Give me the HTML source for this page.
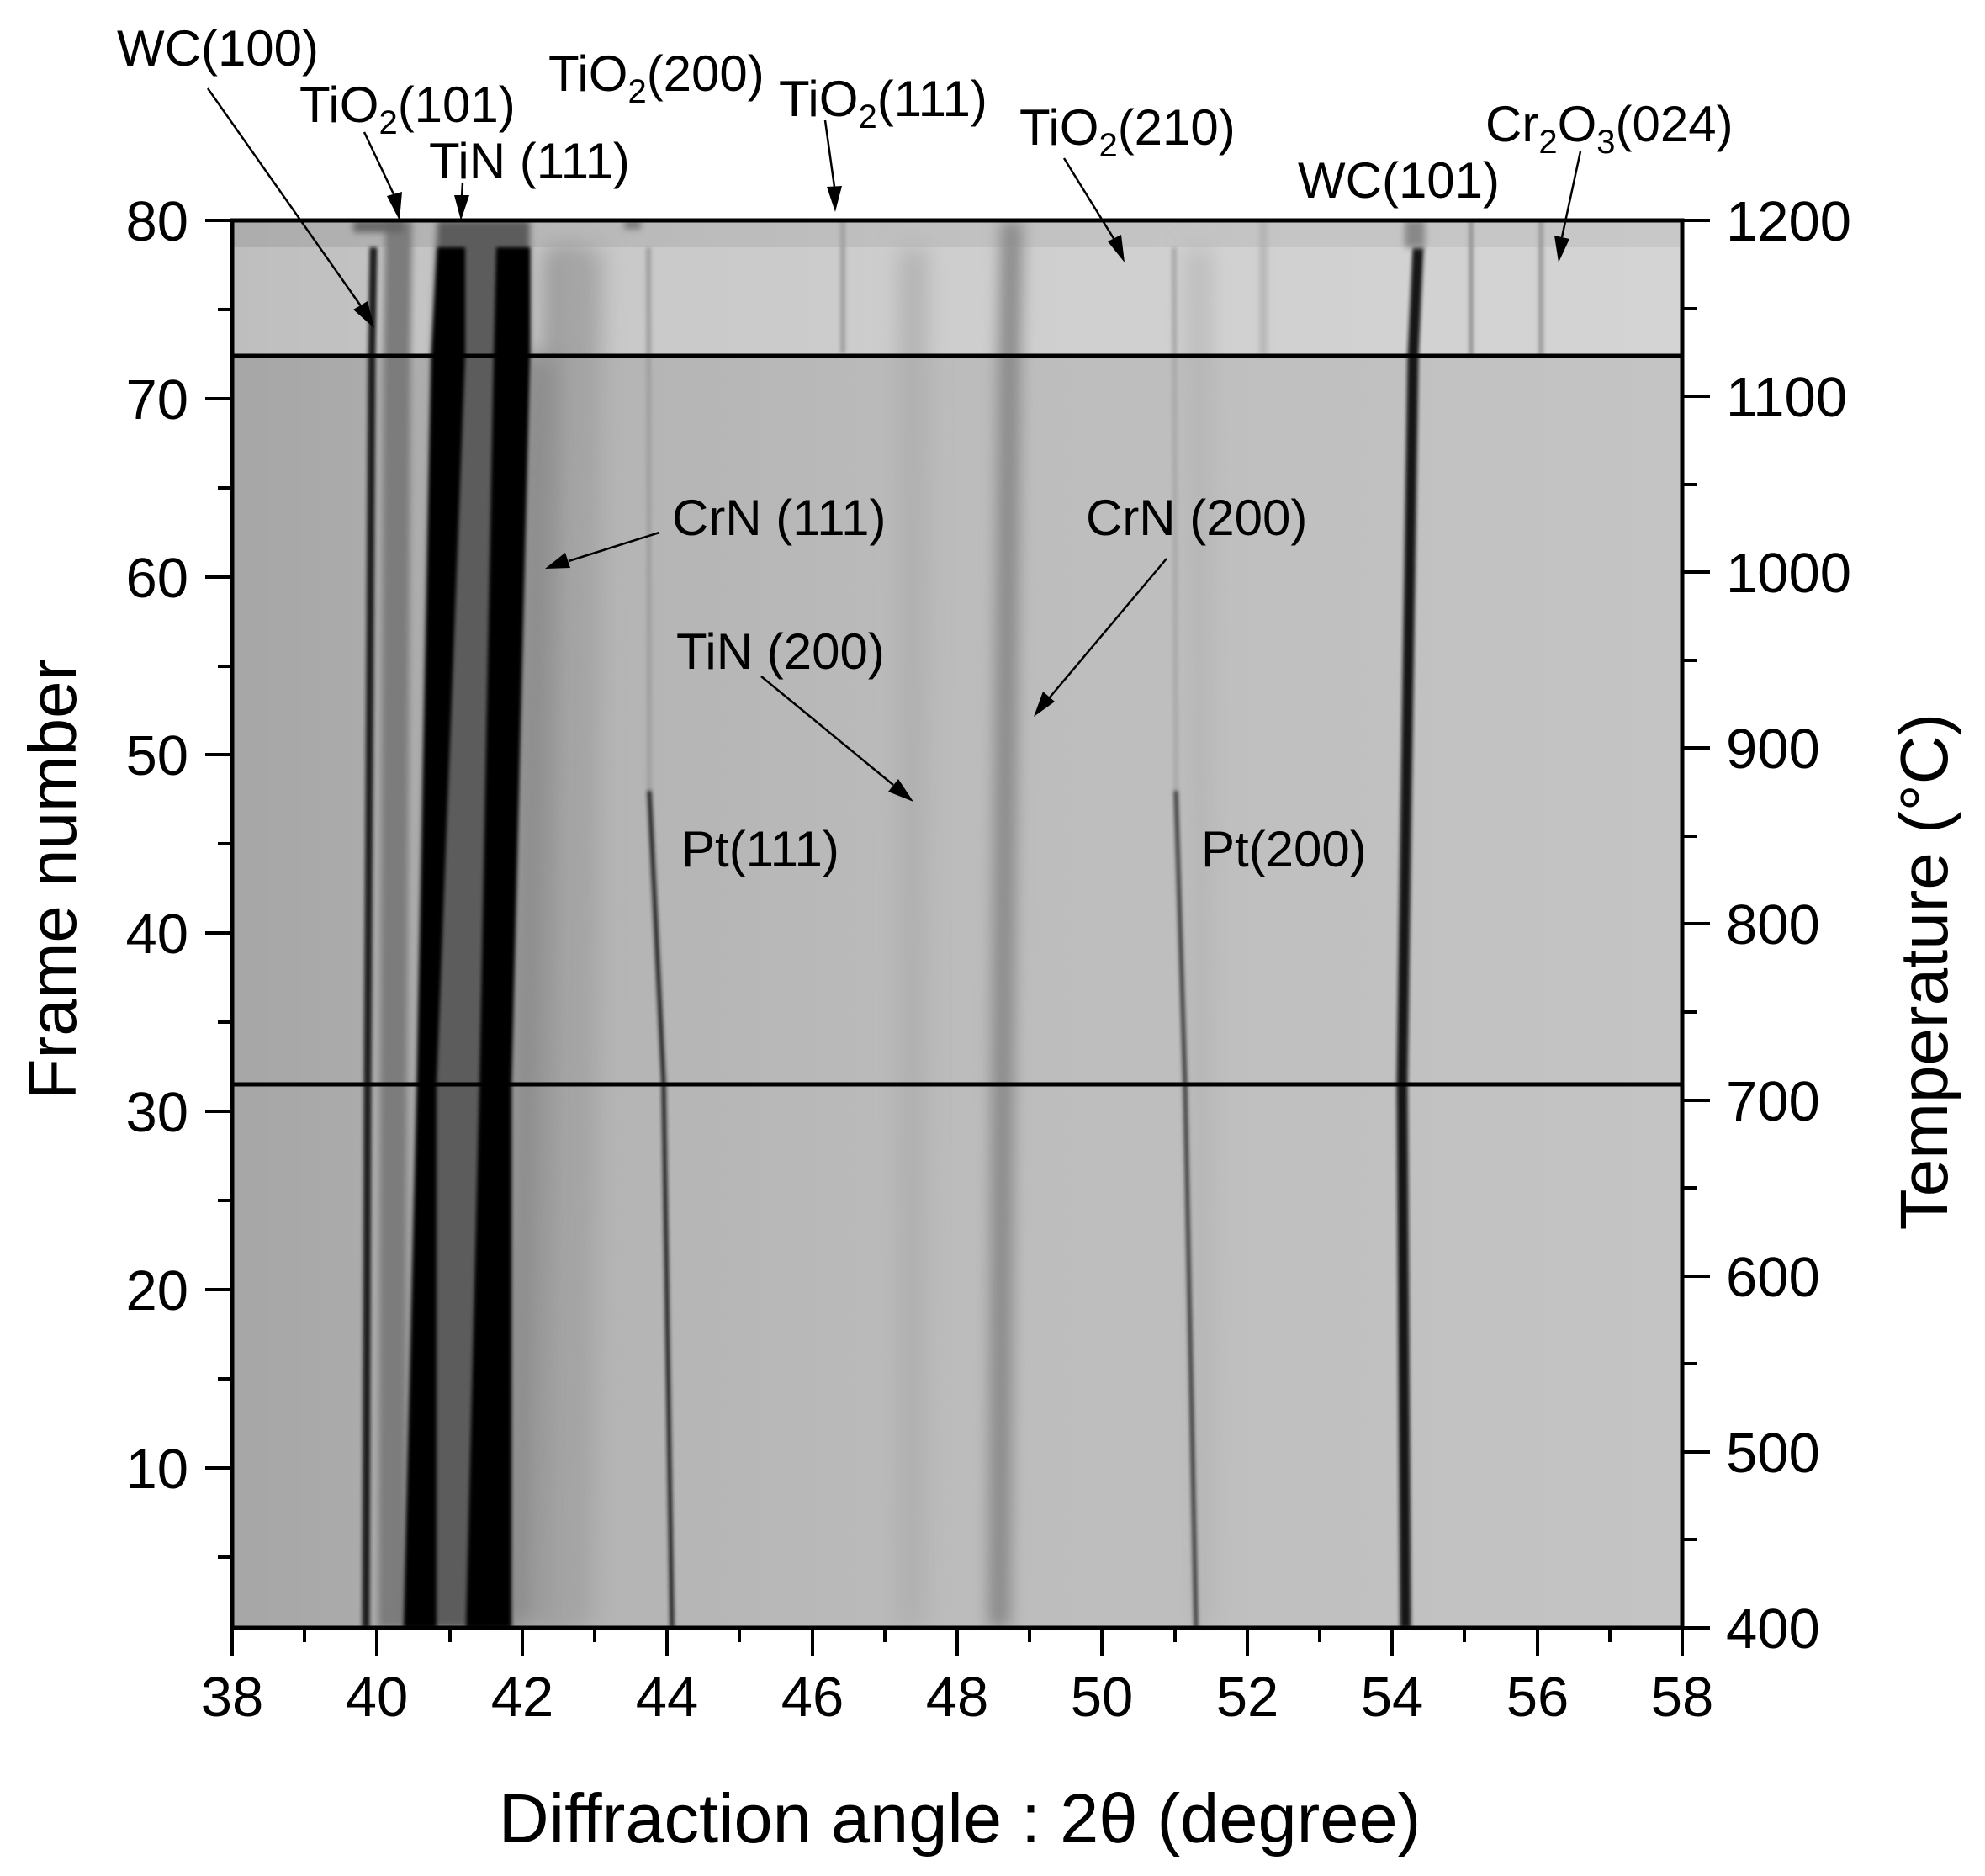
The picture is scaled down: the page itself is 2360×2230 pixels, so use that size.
<!DOCTYPE html>
<html><head><meta charset="utf-8"><style>
html,body{margin:0;padding:0;background:#fff;}
svg{display:block;}
text{font-family:"Liberation Sans",Arial,sans-serif;fill:#000;}
</style></head><body>
<svg width="2360" height="2230" viewBox="0 0 2360 2230" xmlns="http://www.w3.org/2000/svg">
<defs>
<linearGradient id="bg" x1="276" y1="0" x2="2000" y2="0" gradientUnits="userSpaceOnUse">
<stop offset="0" stop-color="#a6a6a6"/><stop offset="0.25" stop-color="#b4b4b4"/><stop offset="0.55" stop-color="#bdbdbd"/><stop offset="1" stop-color="#c4c4c4"/>
</linearGradient>
<clipPath id="pc"><rect x="276" y="262" width="1724" height="1673"/></clipPath>
<filter id="b2" filterUnits="userSpaceOnUse" x="0" y="0" width="2360" height="2230"><feGaussianBlur stdDeviation="2"/></filter>
<filter id="b4" filterUnits="userSpaceOnUse" x="0" y="0" width="2360" height="2230"><feGaussianBlur stdDeviation="4"/></filter>
<filter id="b8" filterUnits="userSpaceOnUse" x="0" y="0" width="2360" height="2230"><feGaussianBlur stdDeviation="9"/></filter>
<filter id="b14" filterUnits="userSpaceOnUse" x="0" y="0" width="2360" height="2230"><feGaussianBlur stdDeviation="14"/></filter>
</defs>
<g clip-path="url(#pc)">
<rect x="276" y="262" width="1724" height="1673" fill="url(#bg)"/>
<rect x="276" y="294" width="1724" height="129" fill="#fff" opacity="0.28"/>
<rect x="276" y="262" width="1724" height="32" fill="#fff" opacity="0.08"/>
<!-- faint bands -->
<polyline points="658,1935 662,1289 668,294" fill="none" stroke="#9a9a9a" stroke-width="40" filter="url(#b14)"/>
<polyline points="680,1935 690,294" fill="none" stroke="#a4a4a4" stroke-width="50" filter="url(#b14)"/>
<polyline points="1083,1935 1086,294" fill="none" stroke="#adadad" stroke-width="28" filter="url(#b14)"/>
<polyline points="1430,1935 1425,294" fill="none" stroke="#b2b2b2" stroke-width="20" filter="url(#b14)"/>
<polyline points="1502,423 1502,262" fill="none" stroke="#a8a8a8" stroke-width="6" filter="url(#b4)"/>
<polyline points="1749,423 1749,262" fill="none" stroke="#999" stroke-width="6" filter="url(#b2)"/>
<polyline points="1832,423 1832,262" fill="none" stroke="#9c9c9c" stroke-width="6" filter="url(#b2)"/>
<polyline points="1002,420 1002,262" fill="none" stroke="#a0a0a0" stroke-width="6" filter="url(#b2)"/>
<!-- CrN(200) -->
<polyline points="1188,1935 1192,1289 1200,423 1203,262" fill="none" stroke="#8a8a8a" stroke-width="26" filter="url(#b8)"/>
<!-- left cluster -->
<polyline points="466,1935 468,1289 472,423 474,262" fill="none" stroke="#7c7c7c" stroke-width="32" filter="url(#b4)"/>
<polygon points="480,1935 496,1289 513,423 520,262 630,262 630,423 608,1289 608,1935" fill="#5c5c5c" filter="url(#b4)"/>
<polyline points="615,1935 625,1289 640,423" fill="none" stroke="#8a8a8a" stroke-width="40" filter="url(#b14)"/>
<polygon points="480,1935 496,1289 513,423 520,294 553,294 553,423 519,1289 519,1935" fill="#000" filter="url(#b2)"/>
<polygon points="554,1935 570,1289 587,423 590,294 630,294 630,423 608,1289 608,1935" fill="#000" filter="url(#b2)"/>
<polyline points="435,1935 437,1289 442,423 444,294" fill="none" stroke="#1c1c1c" stroke-width="9" filter="url(#b2)"/>
<!-- Pt(111) -->
<polyline points="772,940 771,294" fill="none" stroke="#a0a0a0" stroke-width="6" filter="url(#b2)"/>
<polyline points="799,1935 789,1289 772,940" fill="none" stroke="#1a1a1a" stroke-width="5" filter="url(#b2)"/>
<!-- Pt(200) -->
<polyline points="1398,940 1396,294" fill="none" stroke="#aaa" stroke-width="6" filter="url(#b2)"/>
<polyline points="1422,1935 1409,1289 1398,940" fill="none" stroke="#3a3a3a" stroke-width="5" filter="url(#b2)"/>
<!-- WC(101) -->
<polyline points="1671,1935 1667,1289 1672,940 1680,423 1686,294" fill="none" stroke="#141414" stroke-width="13" filter="url(#b2)"/>
<rect x="1670" y="262" width="24" height="32" fill="#888" filter="url(#b4)"/>
<rect x="420" y="262" width="60" height="14" fill="#666" filter="url(#b4)"/>
<rect x="742" y="262" width="20" height="10" fill="#777" filter="url(#b4)"/>
</g>
<line x1="276" y1="423" x2="2000" y2="423" stroke="#000" stroke-width="5"/>
<line x1="276" y1="1289" x2="2000" y2="1289" stroke="#000" stroke-width="5"/>
<rect x="276" y="262" width="1724" height="1673" fill="none" stroke="#000" stroke-width="5"/>
<g stroke="#000" stroke-width="4">
<line x1="244" y1="262" x2="276" y2="262"/><line x1="244" y1="474" x2="276" y2="474"/><line x1="244" y1="686" x2="276" y2="686"/><line x1="244" y1="897" x2="276" y2="897"/><line x1="244" y1="1109" x2="276" y2="1109"/><line x1="244" y1="1321" x2="276" y2="1321"/><line x1="244" y1="1533" x2="276" y2="1533"/><line x1="244" y1="1745" x2="276" y2="1745"/>
<line x1="259" y1="368" x2="276" y2="368"/><line x1="259" y1="580" x2="276" y2="580"/><line x1="259" y1="792" x2="276" y2="792"/><line x1="259" y1="1003" x2="276" y2="1003"/><line x1="259" y1="1215" x2="276" y2="1215"/><line x1="259" y1="1427" x2="276" y2="1427"/><line x1="259" y1="1639" x2="276" y2="1639"/><line x1="259" y1="1851" x2="276" y2="1851"/>
<line x1="2000" y1="262" x2="2033" y2="262"/><line x1="2000" y1="471" x2="2033" y2="471"/><line x1="2000" y1="680" x2="2033" y2="680"/><line x1="2000" y1="889" x2="2033" y2="889"/><line x1="2000" y1="1098" x2="2033" y2="1098"/><line x1="2000" y1="1308" x2="2033" y2="1308"/><line x1="2000" y1="1517" x2="2033" y2="1517"/><line x1="2000" y1="1726" x2="2033" y2="1726"/><line x1="2000" y1="1935" x2="2033" y2="1935"/>
<line x1="2000" y1="367" x2="2017" y2="367"/><line x1="2000" y1="576" x2="2017" y2="576"/><line x1="2000" y1="785" x2="2017" y2="785"/><line x1="2000" y1="994" x2="2017" y2="994"/><line x1="2000" y1="1203" x2="2017" y2="1203"/><line x1="2000" y1="1412" x2="2017" y2="1412"/><line x1="2000" y1="1621" x2="2017" y2="1621"/><line x1="2000" y1="1830" x2="2017" y2="1830"/>
<line x1="276" y1="1935" x2="276" y2="1968"/><line x1="448" y1="1935" x2="448" y2="1968"/><line x1="621" y1="1935" x2="621" y2="1968"/><line x1="793" y1="1935" x2="793" y2="1968"/><line x1="966" y1="1935" x2="966" y2="1968"/><line x1="1138" y1="1935" x2="1138" y2="1968"/><line x1="1310" y1="1935" x2="1310" y2="1968"/><line x1="1483" y1="1935" x2="1483" y2="1968"/><line x1="1655" y1="1935" x2="1655" y2="1968"/><line x1="1828" y1="1935" x2="1828" y2="1968"/><line x1="2000" y1="1935" x2="2000" y2="1968"/>
<line x1="362" y1="1935" x2="362" y2="1952"/><line x1="535" y1="1935" x2="535" y2="1952"/><line x1="707" y1="1935" x2="707" y2="1952"/><line x1="879" y1="1935" x2="879" y2="1952"/><line x1="1052" y1="1935" x2="1052" y2="1952"/><line x1="1224" y1="1935" x2="1224" y2="1952"/><line x1="1397" y1="1935" x2="1397" y2="1952"/><line x1="1569" y1="1935" x2="1569" y2="1952"/><line x1="1741" y1="1935" x2="1741" y2="1952"/><line x1="1914" y1="1935" x2="1914" y2="1952"/>
</g>
<g font-size="67" text-anchor="end">
<text x="224" y="286">80</text><text x="224" y="498">70</text><text x="224" y="710">60</text><text x="224" y="921">50</text><text x="224" y="1133">40</text><text x="224" y="1345">30</text><text x="224" y="1557">20</text><text x="224" y="1769">10</text>
</g>
<g font-size="67" text-anchor="start">
<text x="2052" y="286">1200</text><text x="2052" y="495">1100</text><text x="2052" y="704">1000</text><text x="2052" y="913">900</text><text x="2052" y="1122">800</text><text x="2052" y="1332">700</text><text x="2052" y="1541">600</text><text x="2052" y="1750">500</text><text x="2052" y="1959">400</text>
</g>
<g font-size="67" text-anchor="middle">
<text x="276" y="2040">38</text><text x="448" y="2040">40</text><text x="621" y="2040">42</text><text x="793" y="2040">44</text><text x="966" y="2040">46</text><text x="1138" y="2040">48</text><text x="1310" y="2040">50</text><text x="1483" y="2040">52</text><text x="1655" y="2040">54</text><text x="1828" y="2040">56</text><text x="2000" y="2040">58</text>
</g>
<text x="1141" y="2190" font-size="83" text-anchor="middle">Diffraction angle : 2θ (degree)</text>
<text transform="translate(90,1045) rotate(-90)" font-size="80" text-anchor="middle">Frame number</text>
<text transform="translate(2315,1155) rotate(-90)" font-size="80" text-anchor="middle">Temperature (°C)</text>
<g font-size="60">
<text x="139" y="78">WC(100)</text>
<text x="356" y="145">TiO<tspan font-size="40" dy="14">2</tspan><tspan dy="-14">(101)</tspan></text>
<text x="510" y="212">TiN (111)</text>
<text x="652" y="108">TiO<tspan font-size="40" dy="14">2</tspan><tspan dy="-14">(200)</tspan></text>
<text x="926" y="138">TiO<tspan font-size="40" dy="14">2</tspan><tspan dy="-14">(111)</tspan></text>
<text x="1212" y="172">TiO<tspan font-size="40" dy="14">2</tspan><tspan dy="-14">(210)</tspan></text>
<text x="1543" y="235">WC(101)</text>
<text x="1766" y="168">Cr<tspan font-size="40" dy="14">2</tspan><tspan dy="-14">O</tspan><tspan font-size="40" dy="14">3</tspan><tspan dy="-14">(024)</tspan></text>
<text x="799" y="636">CrN (111)</text>
<text x="1291" y="636">CrN (200)</text>
<text x="804" y="795">TiN (200)</text>
<text x="810" y="1030">Pt(111)</text>
<text x="1428" y="1030">Pt(200)</text>
</g>
<g stroke="#000" stroke-width="2.5" fill="none">
<line x1="247" y1="105" x2="432" y2="368"/>
<line x1="433" y1="157" x2="470" y2="235"/>
<line x1="550" y1="217" x2="549" y2="235"/>
<line x1="981" y1="143" x2="992" y2="222"/>
<line x1="1265" y1="188" x2="1325" y2="285"/>
<line x1="1879" y1="180" x2="1857" y2="282"/>
<line x1="784" y1="633" x2="676" y2="667"/>
<line x1="1387" y1="664" x2="1248" y2="829"/>
<line x1="905" y1="804" x2="1062" y2="933"/>
</g>
<g fill="#000">
<polygon points="445,390 420,368 437,358"/>
<polygon points="475,262 460,233 478,228"/>
<polygon points="548,262 540,232 558,232"/>
<polygon points="993,252 983,222 1001,221"/>
<polygon points="1337,312 1317,287 1333,279"/>
<polygon points="1853,312 1848,280 1866,284"/>
<polygon points="648,676 672,657 678,675"/>
<polygon points="1229,852 1240,822 1254,834"/>
<polygon points="1086,953 1056,941 1068,926"/>
</g>
</svg>
</body></html>
